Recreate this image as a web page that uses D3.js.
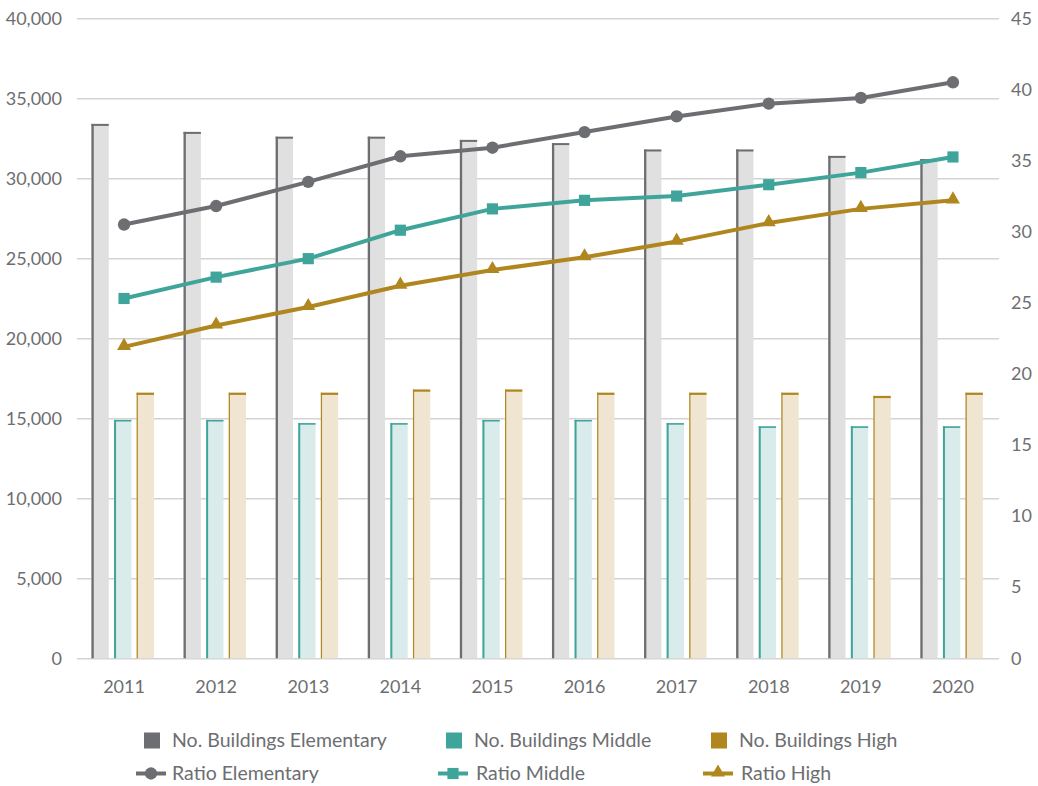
<!DOCTYPE html>
<html>
<head>
<meta charset="utf-8">
<script src="https://cdn.jsdelivr.net/npm/d3@7/dist/d3.min.js"></script>
<style>
  html, body { margin: 0; padding: 0; background: #fff; }
  svg { display: block; }
  text { font-family: Lato, "Open Sans", sans-serif; fill: #6d6e71; }
</style>
</head>
<body>
<svg id="chart" width="1038" height="786"></svg>
<script>
// ---- data ----
const years = ["2011","2012","2013","2014","2015","2016","2017","2018","2019","2020"];
const bldgElementary = [33400, 32900, 32600, 32600, 32400, 32200, 31800, 31800, 31400, 31200];
const bldgMiddle     = [14900, 14900, 14700, 14700, 14900, 14900, 14700, 14500, 14500, 14500];
const bldgHigh       = [16600, 16600, 16600, 16800, 16800, 16600, 16600, 16600, 16400, 16600];
const ratioElementary = [30.5, 31.8, 33.5, 35.3, 35.9, 37.0, 38.1, 39.0, 39.4, 40.5];
const ratioMiddle     = [25.3, 26.8, 28.1, 30.1, 31.6, 32.2, 32.5, 33.3, 34.15, 35.25];
const ratioHigh       = [21.9, 23.4, 24.7, 26.2, 27.3, 28.2, 29.3, 30.6, 31.6, 32.2];
const leftTicks  = [0, 5000, 10000, 15000, 20000, 25000, 30000, 35000, 40000];
const rightTicks = [0, 5, 10, 15, 20, 25, 30, 35, 40, 45];
const seriesNames = ["Elementary", "Middle", "High"];

// ---- styles ----
const lineColor = { Elementary: "#6d6e71", Middle: "#3fa59b", High: "#b0861f" };
const barFill   = { Elementary: "#e0e0e0", Middle: "#d9ebea", High: "#efe5d1" };
const edge      = { Elementary: {l: 2.3, t: 2}, Middle: {l: 2, t: 1.6}, High: {l: 1.2, t: 2.2} };

const svg = d3.select("#chart");
const plotL = 78, plotR = 999, plotT = 18.3, plotB = 658.3;

const x = d3.scaleBand().domain(years).range([plotL, plotR]).padding(0);
const xSub = d3.scaleBand().domain(seriesNames).range([-32.6, 29.9]).paddingInner(0.234);
const yL = d3.scaleLinear().domain([0, 40000]).range([plotB, plotT]);
const yR = d3.scaleLinear().domain([0, 45]).range([plotB, plotT]);

// gridlines
svg.append("g")
  .attr("transform", `translate(${plotL - 1},0)`)
  .call(d3.axisLeft(yL).tickValues(leftTicks).tickSize(-(plotR - plotL + 1)).tickFormat(""))
  .call(g => g.select(".domain").remove())
  .call(g => g.selectAll("line").attr("stroke", "#d3d3d3").attr("stroke-width", 1.6));

// left axis labels
svg.append("g")
  .attr("transform", `translate(${plotL - 1},0)`)
  .call(d3.axisLeft(yL).tickValues(leftTicks).tickSize(0).tickPadding(15).tickFormat(d3.format(",")))
  .call(g => g.select(".domain").remove())
  .call(g => g.selectAll("text").style("font-size", "18px").attr("fill", "#6d6e71"));

// right axis labels
svg.append("g")
  .attr("transform", `translate(${plotR},0)`)
  .call(d3.axisRight(yR).tickValues(rightTicks).tickSize(0).tickPadding(12))
  .call(g => g.select(".domain").remove())
  .call(g => g.selectAll("text").style("font-size", "18px").attr("fill", "#6d6e71"));

// x axis labels
svg.append("g")
  .attr("transform", `translate(0,${plotB})`)
  .call(d3.axisBottom(x).tickSize(0).tickPadding(22))
  .call(g => g.select(".domain").remove())
  .call(g => g.selectAll("text").style("font-size", "18px").attr("fill", "#6d6e71"));

// bars
const barData = { Elementary: bldgElementary, Middle: bldgMiddle, High: bldgHigh };
seriesNames.forEach(s => {
  const g = svg.append("g");
  const vals = barData[s];
  const bw = xSub.bandwidth();
  years.forEach((yr, i) => {
    const bx = x(yr) + x.bandwidth() / 2 + xSub(s);
    const by = yL(vals[i]);
    g.append("rect").attr("x", bx).attr("y", by).attr("width", bw).attr("height", plotB - by)
      .attr("fill", barFill[s]);
    g.append("rect").attr("x", bx).attr("y", by).attr("width", edge[s].l).attr("height", plotB - by)
      .attr("fill", lineColor[s]);
    g.append("rect").attr("x", bx).attr("y", by).attr("width", bw).attr("height", edge[s].t)
      .attr("fill", lineColor[s]);
  });
});

// lines
const ratioData = { Elementary: ratioElementary, Middle: ratioMiddle, High: ratioHigh };
const symbolType = { Elementary: d3.symbolCircle, Middle: d3.symbolSquare, High: d3.symbolTriangle };
const symbolSize = { Elementary: 120, Middle: 125, High: 85 };
const cx = yr => x(yr) + x.bandwidth() / 2;
seriesNames.forEach(s => {
  const vals = ratioData[s];
  const line = d3.line().x((d, i) => cx(years[i])).y(d => yR(d));
  svg.append("path").datum(vals).attr("d", line)
    .attr("fill", "none").attr("stroke", lineColor[s]).attr("stroke-width", 4)
    .attr("stroke-linejoin", "round");
  svg.append("g").selectAll("path").data(vals).join("path")
    .attr("transform", (d, i) => `translate(${cx(years[i])},${yR(d) + (s === "High" ? -1 : 0)})`)
    .attr("d", d3.symbol().type(symbolType[s]).size(symbolSize[s]))
    .attr("fill", lineColor[s]);
});

// legend
const legendCols = [144, 446, 711];
const row1 = 740.5, row2 = 773.5;
const legend = svg.append("g");
seriesNames.forEach((s, i) => {
  const lx = legendCols[i];
  legend.append("rect").attr("x", lx).attr("y", row1 - 8).attr("width", 16).attr("height", 16)
    .attr("fill", lineColor[s]);
  legend.append("text").attr("x", lx + 28).attr("y", row1).attr("dy", "0.35em")
    .style("font-size", "19.5px").text("No. Buildings " + s);
  const mx = lx + 7;
  legend.append("line").attr("x1", mx - 15).attr("x2", mx + 15).attr("y1", row2).attr("y2", row2)
    .attr("stroke", lineColor[s]).attr("stroke-width", 4);
  legend.append("path").attr("transform", `translate(${mx},${row2 + (s === "High" ? -1 : 0)})`)
    .attr("d", d3.symbol().type(symbolType[s]).size(symbolSize[s]))
    .attr("fill", lineColor[s]);
  legend.append("text").attr("x", lx + 28 + (i === 0 ? 0 : 2)).attr("y", row2).attr("dy", "0.35em")
    .style("font-size", "19.5px").text("Ratio " + s);
});
</script>
</body>
</html>
